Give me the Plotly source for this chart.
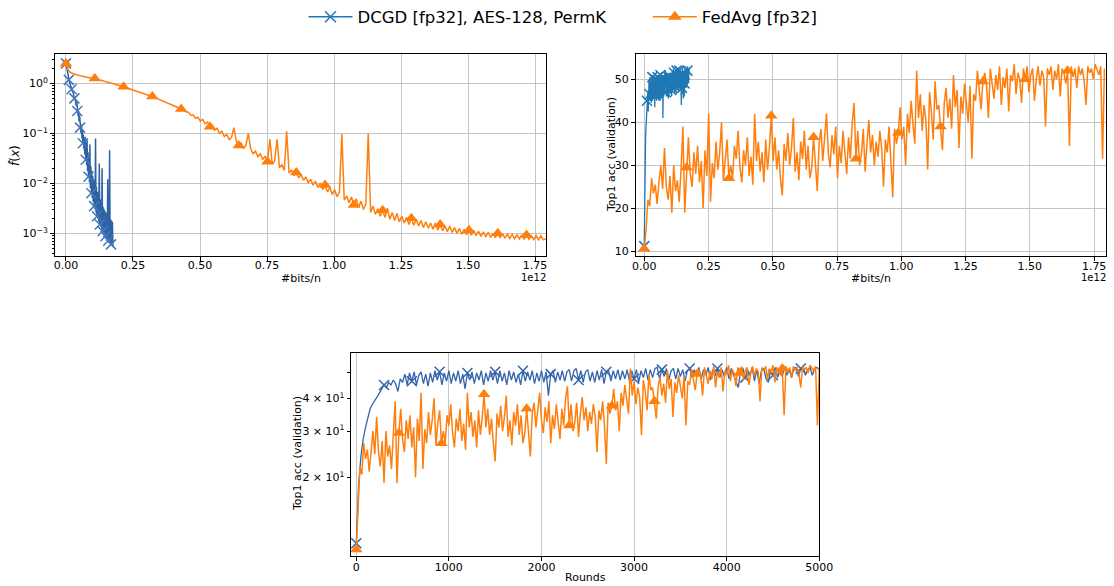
import numpy as np
import plotly.graph_objects as go

W, H = 1114, 586
TOTAL_ROUNDS = 5000
BLUE_BITS_PER_ROUND = 3.5e7
ORANGE_BITS_PER_ROUND = 3.58e8
NAMES = ["DCGD [fp32], AES-128, PermK", "FedAvg [fp32]"]

# training loss f(x), DCGD, sampled every 50 rounds
BLUE_LOSS = [
    2.5, 2.2, 1.9, 1.66, 1.45, 1.3, 1.17, 1.12, 1.0, 0.96,
    0.87, 0.84, 0.76, 0.76, 0.68, 0.67, 0.59, 0.6, 0.5, 0.52,
    0.44, 0.47, 0.35, 0.42, 0.28, 0.34, 0.22, 0.28, 0.17, 0.23,
    0.13, 0.18, 0.102, 0.15, 0.079, 0.12, 0.063, 0.095, 0.049, 0.075,
    0.038, 0.085, 0.0295, 0.065, 0.0229, 0.073, 0.0174, 0.042, 0.0135, 0.035,
    0.0105, 0.06, 0.0081, 0.022, 0.0063, 0.018, 0.0051, 0.014, 0.0043, 0.012,
    0.0035, 0.0105, 0.003, 0.079, 0.0026, 0.0085, 0.0022, 0.0068, 0.00195, 0.006,
    0.0017, 0.025, 0.0015, 0.0048, 0.00135, 0.0042, 0.0012, 0.02, 0.0011, 0.0034,
    0.001, 0.0031, 0.00093, 0.0028, 0.00087, 0.0026, 0.00081, 0.0024, 0.00076, 0.012,
    0.00071, 0.0022, 0.00068, 0.046, 0.00063, 0.0019, 0.0006, 0.0018, 0.00058, 0.0017,
    0.00055,
]

# training loss f(x), FedAvg, sampled every 25 rounds
ORANGE_LOSS = [
    2.5, 1.82, 1.62, 1.55, 1.48, 1.45, 1.41, 1.38, 1.35, 1.33,
    1.30, 1.28, 1.25, 1.21, 1.18, 1.14, 1.10, 1.07, 1.03, 1.0,
    0.97, 0.94, 0.91, 0.88, 0.85, 0.82, 0.79, 0.76, 0.735, 0.71,
    0.68, 0.66, 0.63, 0.61, 0.59, 0.57, 0.545, 0.52, 0.495, 0.47,
    0.45, 0.43, 0.41, 0.39, 0.37, 0.355, 0.34, 0.32, 0.305, 0.29,
    0.27, 0.265, 0.23, 0.235, 0.2, 0.21, 0.175, 0.19, 0.155, 0.167,
    0.135, 0.145, 0.115, 0.126, 0.1, 0.11, 0.086, 0.095, 0.075, 0.082,
    0.13, 0.07, 0.057, 0.064, 0.049, 0.057, 0.10, 0.049, 0.039, 0.044,
    0.034, 0.039, 0.03, 0.035, 0.027, 0.076, 0.024, 0.028, 0.076, 0.0205,
    0.0235, 0.018, 0.11, 0.016, 0.0185, 0.0142, 0.0165, 0.0128, 0.015, 0.0115,
    0.0134, 0.0102, 0.0121, 0.0092, 0.011, 0.0083, 0.0101, 0.0075, 0.0093, 0.0067,
    0.0082, 0.006, 0.0075, 0.0054, 0.0066, 0.097, 0.0046, 0.0056, 0.0041, 0.0053,
    0.0037, 0.0049, 0.0033, 0.0044, 0.003, 0.0039, 0.10, 0.0026, 0.0035, 0.0024,
    0.0031, 0.0022, 0.0029, 0.0021, 0.0032, 0.0019, 0.0026, 0.0018, 0.0025, 0.0017,
    0.0022, 0.0016, 0.0021, 0.0015, 0.002, 0.00145, 0.0019, 0.0014, 0.0018, 0.0013,
    0.0017, 0.00127, 0.0016, 0.0012, 0.0016, 0.00116, 0.0015, 0.00112, 0.0014, 0.00108,
    0.0014, 0.00104, 0.0013, 0.001, 0.00125, 0.00096, 0.0012, 0.00094, 0.00115, 0.00092,
    0.00115, 0.0009, 0.0011, 0.00087, 0.00107, 0.00085, 0.00105, 0.00083, 0.001, 0.00082,
    0.001, 0.00081, 0.00098, 0.0008, 0.00096, 0.00079, 0.00095, 0.00078, 0.00093, 0.00077,
    0.00093, 0.00076, 0.00092, 0.00076, 0.0009, 0.00075, 0.0009, 0.00074, 0.00089, 0.00074,
    0.00078,
]

# top-1 validation accuracy, DCGD, every 25 rounds
BLUE_ACC = [
    11.2, 18.5, 24.0, 28.0, 31.0, 34.0, 36.5, 38.0, 39.5, 40.5,
    42.0, 43.5, 45.0, 44.0, 46.0, 45.0, 47.0, 45.5, 42.5, 47.5,
    46.0, 49.5, 45.0, 50.0, 46.5, 50.5, 45.0, 49.0, 50.5, 45.5,
    49.5, 44.5, 50.0, 46.0, 51.0, 47.0, 50.5, 45.0, 50.0, 46.5,
    51.0, 45.5, 50.0, 46.5, 51.0, 45.5, 49.5, 43.5, 50.0, 47.0,
    50.5, 45.5, 50.0, 47.0, 51.0, 45.0, 50.0, 46.5, 51.0, 47.0,
    50.5, 45.5, 51.0, 46.5, 50.0, 45.0, 51.0, 47.0, 50.5, 46.0,
    49.5, 45.0, 51.0, 46.5, 50.5, 47.0, 51.0, 45.5, 50.0, 46.5,
    51.0, 46.0, 50.5, 41.0, 49.5, 51.0, 46.0, 50.5, 47.0, 51.0,
    46.5, 50.5, 51.5, 46.5, 51.0, 52.0, 47.0, 51.0, 46.0, 50.5,
    51.5, 46.5, 50.5, 46.0, 51.0, 47.0, 51.5, 45.5, 50.5, 51.0,
    46.5, 51.0, 47.5, 51.5, 47.0, 51.0, 47.5, 51.5, 46.5, 51.0,
    47.5, 51.5, 46.0, 51.0, 48.0, 52.0, 47.0, 51.5, 48.0, 52.0,
    52.5, 47.5, 51.5, 48.5, 52.0, 47.0, 51.0, 52.0, 47.5, 52.0,
    48.5, 51.5, 46.5, 51.0, 52.0, 48.0, 51.5, 48.5, 52.5, 47.5,
    51.5, 49.0, 52.5, 47.0, 51.5, 48.5, 52.0, 48.0, 51.5, 48.5,
    52.5, 47.5, 52.0, 49.0, 46.5, 44.0, 51.0, 52.0, 48.0, 51.5,
    49.0, 52.5, 46.5, 51.5, 45.5, 51.0, 52.0, 47.5, 46.0, 51.5,
    49.0, 52.5, 48.0, 52.0, 48.5, 53.0, 49.0, 51.5, 48.0, 52.0,
    52.5, 48.5, 52.0, 53.0, 49.0, 51.5, 52.5, 49.0, 52.0, 52.5,
    51.5,
]

# top-1 validation accuracy, FedAvg, every 20 rounds
ORANGE_ACC = [
    10.6, 15.0, 22.0, 20.5, 27.0, 23.5, 25.5, 21.0, 26.0, 30.0,
    24.5, 34.0, 25.0, 22.0, 27.5, 19.0, 30.0, 24.0, 26.5, 21.5,
    29.0, 39.0, 19.0, 29.5, 36.5, 28.0, 25.0, 33.0, 28.0, 34.5,
    26.0, 31.0, 20.0, 33.5, 27.5, 42.0, 21.5, 30.5, 27.0, 35.5,
    29.0, 33.0, 40.0, 26.5, 32.0, 36.0, 27.0, 30.0, 27.0, 34.5,
    31.5, 38.0, 29.5, 26.0, 33.5, 30.0, 36.5, 27.5, 32.0, 25.5,
    42.0, 31.0, 35.5, 28.5, 33.0, 26.0, 36.0, 29.0, 34.0, 41.5,
    31.0, 36.5, 29.0, 33.5, 27.0, 23.0, 35.0, 31.0, 37.5, 30.0,
    34.0, 41.0, 28.5, 33.0, 26.5, 35.5, 31.5, 38.0, 29.0, 34.5,
    27.0, 29.5, 36.5, 30.0, 24.0, 35.0, 38.5, 31.0, 36.0, 42.0,
    33.0, 29.5, 37.0, 32.5, 39.0, 27.0, 34.5, 30.5, 38.0, 33.0,
    28.0, 36.5, 31.5, 40.0, 44.5, 31.5, 38.0, 30.0, 32.5, 38.5,
    28.5, 35.0, 40.5, 33.0, 37.0, 30.0, 35.5, 32.0, 38.0, 34.0,
    25.0, 36.0, 33.0, 39.0, 31.5, 22.5, 38.5, 35.0, 37.5, 43.5,
    36.0, 39.0, 30.0, 42.0, 37.5, 45.0, 39.5, 35.0, 52.0, 41.0,
    46.5, 38.0, 44.0, 40.5, 29.0, 47.0, 42.5, 36.0, 49.5, 43.0,
    44.0, 39.0, 33.5, 44.5, 48.0, 41.0, 45.5, 38.5, 51.0, 43.5,
    47.5, 34.0, 46.0, 42.0, 49.0, 44.5, 40.0, 48.5, 31.5, 46.5,
    45.0, 52.0, 47.0, 43.0, 49.5, 51.5, 48.5, 41.0, 52.5, 49.0,
    45.5, 51.0, 47.5, 53.0, 44.0, 50.5, 48.0, 52.5, 42.5, 51.0,
    49.5, 53.5, 46.5, 51.5, 50.0, 44.5, 52.5, 50.0, 53.0, 47.0,
    51.0, 52.5, 45.0, 50.0, 53.0, 48.5, 52.0, 50.5, 39.0, 52.5,
    51.0, 53.0, 47.5, 52.0, 50.0, 53.5, 46.0, 52.5, 51.5, 49.0,
    52.0, 34.5, 53.0, 50.5, 52.5, 48.0, 53.0, 51.0, 52.5, 49.5,
    44.0, 53.0, 51.5, 52.5, 50.0, 53.5, 52.0, 51.0, 53.0, 31.5,
    52.5,
]

BLUE = "#1f77b4"
BLUE_DARK = "#2f62a5"
BLUE_MID = "#3464ab"
ORANGE = "#ff7f0e"
FONT = "DejaVu Sans"


def rounds_of(vals):
    return np.linspace(0, TOTAL_ROUNDS, len(vals))


def bits_of(vals, bpr):
    return rounds_of(vals) * bpr / 1e12


def dom_x(a, b):
    return [a / W, b / W]


def dom_y(top, bottom):
    return [1 - bottom / H, 1 - top / H]


fig = go.Figure()


def add_series(x, y, xa, ya, color, lw, sym, msize, every, mline=None):
    x = np.asarray(x)
    y = np.asarray(y)
    fig.add_trace(go.Scatter(x=x, y=y, mode="lines", xaxis=xa, yaxis=ya,
                             line=dict(color=color, width=lw), showlegend=False,
                             hoverinfo="skip"))
    idx = np.arange(0, len(x), every)
    marker = dict(symbol=sym, size=msize, color=color)
    if mline:
        marker["line"] = dict(color=mline, width=1.5)
    else:
        marker["line"] = dict(width=0)
    fig.add_trace(go.Scatter(x=x[idx], y=y[idx], mode="markers", xaxis=xa, yaxis=ya,
                             marker=marker, showlegend=False, hoverinfo="skip"))


# top-left: loss vs bits
add_series(bits_of(BLUE_LOSS, BLUE_BITS_PER_ROUND), BLUE_LOSS, "x", "y",
           BLUE_DARK, 1.5, "x-thin", 10, 6, mline="#4477bb")
add_series(bits_of(ORANGE_LOSS, ORANGE_BITS_PER_ROUND), ORANGE_LOSS, "x", "y",
           ORANGE, 1.5, "triangle-up", 11, 12)

# top-right: accuracy vs bits
add_series(bits_of(BLUE_ACC, BLUE_BITS_PER_ROUND), BLUE_ACC, "x2", "y2",
           BLUE, 1.3, "x-thin", 10, 12, mline=BLUE)
add_series(bits_of(ORANGE_ACC, ORANGE_BITS_PER_ROUND), ORANGE_ACC, "x2", "y2",
           ORANGE, 1.5, "triangle-up", 11, 23)

# bottom: accuracy vs rounds
add_series(rounds_of(BLUE_ACC), BLUE_ACC, "x3", "y3",
           BLUE_MID, 1.3, "x-thin", 10, 12, mline=BLUE_MID)
add_series(rounds_of(ORANGE_ACC), ORANGE_ACC, "x3", "y3",
           ORANGE, 1.5, "triangle-up", 11, 23)

# legend entries
fig.add_trace(go.Scatter(x=[None], y=[None], mode="lines+markers",
                         name=NAMES[0] + "\u00a0" * 7,
                         line=dict(color=BLUE, width=1.5),
                         marker=dict(symbol="x-thin", size=11, color=BLUE,
                                     line=dict(color=BLUE, width=1.5))))
fig.add_trace(go.Scatter(x=[None], y=[None], mode="lines+markers", name=NAMES[1],
                         line=dict(color=ORANGE, width=1.5),
                         marker=dict(symbol="triangle-up", size=12, color=ORANGE)))

tickfont = dict(family=FONT, size=11, color="black")
common = dict(showline=True, linecolor="black", linewidth=1, mirror=True,
              ticks="outside", ticklen=4, tickwidth=1, tickcolor="black",
              tickfont=tickfont, showgrid=True, gridcolor="#c4c4c4", gridwidth=1,
              zeroline=False)

minor_log = [m * 10.0 ** k for k in range(-4, 1) for m in range(2, 10)]

fig.update_layout(
    width=W, height=H, autosize=False, margin=dict(l=0, r=0, t=0, b=0, autoexpand=False),
    paper_bgcolor="white", plot_bgcolor="white",
    font=dict(family=FONT, size=11, color="black"),
    showlegend=True,
    legend=dict(orientation="h", x=563 / W, xanchor="center", y=1 - 17 / H,
                yanchor="middle", font=dict(family=FONT, size=16.5, color="black"),
                bgcolor="rgba(0,0,0,0)", itemwidth=44, tracegroupgap=0),
    xaxis=dict(domain=dom_x(55, 546), anchor="y", range=[-0.041, 1.791],
               tickvals=[0, 0.25, 0.5, 0.75, 1.0, 1.25, 1.5, 1.75],
               tickformat=".2f", ticklabelstandoff=-5, **common),
    yaxis=dict(domain=dom_y(54.3, 256), anchor="x", type="log", range=[-3.454, 0.58],
               tickvals=[1e-3, 1e-2, 1e-1, 1],
               ticktext=["10<sup>−3</sup>", "10<sup>−2</sup>", "10<sup>−1</sup>", "10<sup>0</sup>"],
               minor=dict(tickmode="array", tickvals=minor_log, ticks="outside",
                          ticklen=2, tickcolor="black", showgrid=False),
               **common),
    xaxis2=dict(domain=dom_x(636, 1105.7), anchor="y2", range=[-0.032, 1.795],
                tickvals=[0, 0.25, 0.5, 0.75, 1.0, 1.25, 1.5, 1.75],
                tickformat=".2f", ticklabelstandoff=-5, **common),
    yaxis2=dict(domain=dom_y(54.3, 256.3), anchor="x2", range=[8.84, 55.8],
                tickvals=[10, 20, 30, 40, 50], **common),
    xaxis3=dict(domain=dom_x(350.7, 819.3), anchor="y3", range=[-60, 5000],
                tickvals=[0, 1000, 2000, 3000, 4000, 5000], ticklabelstandoff=-3,
                **common),
    yaxis3=dict(domain=dom_y(353.3, 555.7), anchor="x3", type="log",
                range=[1.002, 1.774],
                tickvals=[20, 30, 40, 50],
                ticktext=["2 × 10<sup>1</sup>", "3 × 10<sup>1</sup>", "4 × 10<sup>1</sup>", ""],
                **{**common, "showgrid": False, "ticklen": 3}),
)


def ann(text, xpx, ypx, angle=0, size=11, xanchor="center"):
    fig.add_annotation(text=text, x=xpx / W, y=1 - ypx / H, xref="paper", yref="paper",
                       showarrow=False, textangle=angle, xanchor=xanchor, yanchor="middle",
                       font=dict(family=FONT, size=size, color="black"))


ann("#bits/n", 300.5, 278)
ann("#bits/n", 871, 278)
ann("Rounds", 585, 577)
ann("1e12", 548, 277, size=10, xanchor="right")
ann("1e12", 1108, 277, size=10, xanchor="right")
ann("<i>f̂</i>(<i>x</i>)", 15, 156, angle=-90, size=12)
ann("Top1 acc (validation)", 611, 155, angle=-90)
ann("Top1 acc (validation)", 297, 454, angle=-90)

fig.write_html("out.html", config={"responsive": False})
